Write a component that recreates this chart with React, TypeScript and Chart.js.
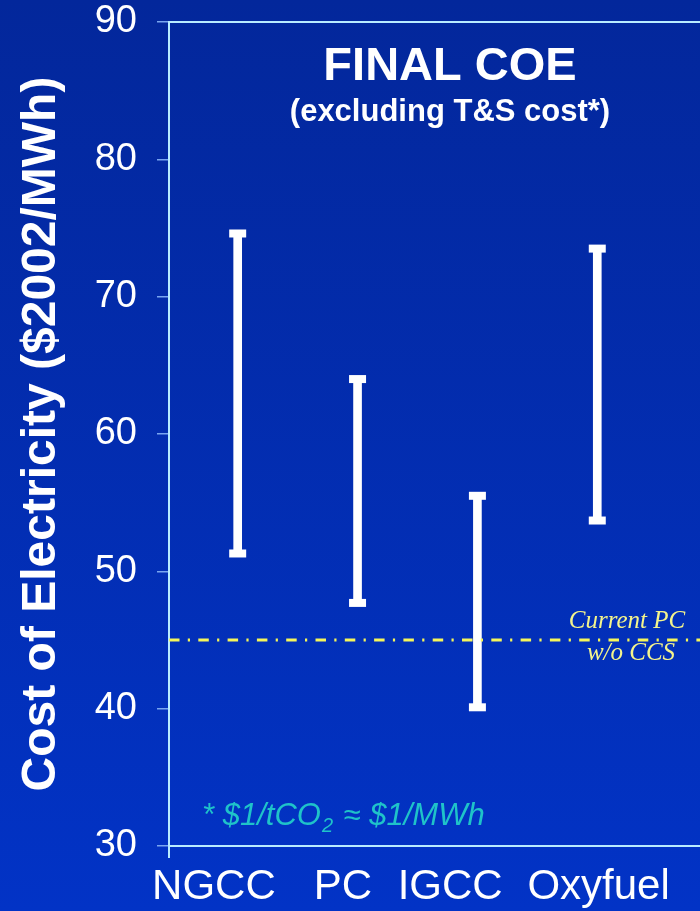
import React, { useEffect, useRef } from 'react';
import { Chart, registerables } from 'chart.js';

Chart.register(...registerables);

// ---------- data ----------
const categories = ['NGCC', 'PC', 'IGCC', 'Oxyfuel'];
const coeLow = [51.3, 47.7, 40.1, 53.7];
const coeHigh = [74.6, 64.0, 55.5, 73.5];
const currentPC = 45;
const yMin = 30;
const yMax = 90;
const yStep = 10;

const titleText = 'FINAL COE';
const subtitleText = '(excluding T&S cost*)';
const yTitle = 'Cost of Electricity ($2002/MWh)';
const refLabel = ['Current PC', 'w/o CCS'];
const footA = '* $1/tCO';
const footSub = '2';
const footB = ' \u2248 $1/MWh';

// ---------- style ----------
const SANS = '"Liberation Sans", Arial, Helvetica, sans-serif';
const SERIF = '"Liberation Serif", "Times New Roman", serif';
const AXIS = '#b8ecff';
const TICK = '#7aa6f0';
const X_MIN = -0.573;
const X_MAX = 3.857;
const LABEL_SHIFT = [-0.198, -0.122, -0.227, 0.011];

export default function App() {
  const ref = useRef<HTMLCanvasElement>(null);

  useEffect(() => {
    const canvas = ref.current;
    if (!canvas) return;

    const barData = categories.map((_, i) => ({ x: i, y: [coeLow[i], coeHigh[i]] }));
    const capData = categories.flatMap((_, i) => [
      { x: i, y: coeLow[i] },
      { x: i, y: coeHigh[i] },
    ]);
    const refData = [
      { x: X_MIN, y: currentPC },
      { x: X_MAX, y: currentPC },
    ];

    const overlay = {
      id: 'overlay',
      afterDraw(chart: any) {
        const { ctx, chartArea } = chart;
        const { left, right, top, bottom } = chartArea;
        const ys = chart.scales.y;
        ctx.save();
        // frame
        ctx.strokeStyle = AXIS;
        ctx.lineWidth = 2;
        ctx.beginPath();
        ctx.moveTo(left - 1, top);
        ctx.lineTo(right, top);
        ctx.stroke();
        ctx.beginPath();
        ctx.moveTo(left, bottom);
        ctx.lineTo(left, bottom + 12);
        ctx.stroke();

        // title
        ctx.fillStyle = '#ffffff';
        ctx.textAlign = 'center';
        ctx.textBaseline = 'alphabetic';
        ctx.font = `bold 47px ${SANS}`;
        ctx.fillText(titleText, left + 281, top + 58);
        ctx.font = `bold 31px ${SANS}`;
        ctx.fillText(subtitleText, left + 281, top + 99);

        // reference label
        const yRef = ys.getPixelForValue(currentPC);
        ctx.fillStyle = '#f4f48c';
        ctx.font = `italic 25px ${SERIF}`;
        ctx.fillText(refLabel[0], 627, yRef - 12);
        ctx.fillText(refLabel[1], 631, yRef + 20);

        // footnote
        ctx.fillStyle = '#1fc3c9';
        ctx.textAlign = 'left';
        let fx = left + 33;
        const fy = bottom - 21;
        ctx.font = `italic 31px ${SANS}`;
        ctx.fillText(footA, fx, fy);
        fx += ctx.measureText(footA).width + 1;
        ctx.font = `italic 20px ${SANS}`;
        ctx.fillText(footSub, fx, fy + 7);
        fx += ctx.measureText(footSub).width + 2;
        ctx.font = `italic 31px ${SANS}`;
        ctx.fillText(footB, fx, fy);
        ctx.restore();
      },
    };

    const chart = new Chart(canvas, {
      type: 'bar',
      data: {
        datasets: [
          {
            type: 'line',
            data: refData,
            borderColor: '#f6f65a',
            borderWidth: 2.8,
            borderDash: [10.5, 8.3, 2.2, 8.3],
            pointRadius: 0,
            fill: false,
            order: 0,
          } as any,
          {
            type: 'bar',
            data: barData,
            backgroundColor: '#ffffff',
            barThickness: 8,
            borderWidth: 0,
            order: 2,
          } as any,
          {
            type: 'scatter',
            data: capData,
            pointStyle: 'line',
            pointRadius: 8.5,
            pointHoverRadius: 8.5,
            pointBorderWidth: 8,
            pointBorderColor: '#ffffff',
            pointBackgroundColor: '#ffffff',
            showLine: false,
            order: 1,
          } as any,
        ],
      },
      options: {
        animation: false,
        responsive: false,
        devicePixelRatio: 1,
        events: [],
        layout: { autoPadding: false, padding: { top: 22, left: 0, right: 0, bottom: 0 } },
        plugins: {
          legend: { display: false },
          tooltip: { enabled: false },
          title: { display: false },
        },
        scales: {
          x: {
            type: 'linear',
            min: X_MIN,
            max: X_MAX,
            offset: false,
            grid: { display: false, drawTicks: false },
            border: { display: true, color: AXIS, width: 2 },
            afterBuildTicks: (s: any) => {
              s.ticks = categories.map((_, i) => ({ value: i + LABEL_SHIFT[i] }));
            },
            ticks: {
              autoSkip: false,
              maxRotation: 0,
              minRotation: 0,
              color: '#ffffff',
              font: { family: SANS, size: 42 },
              padding: 16,
              callback: (_v: any, i: number) => categories[i],
            },
            afterFit: (s: any) => {
              s.height = 65;
              s.paddingLeft = 0;
              s.paddingRight = 0;
            },
          } as any,
          y: {
            type: 'linear',
            min: yMin,
            max: yMax,
            ticks: {
              stepSize: yStep,
              color: '#ffffff',
              font: { family: SANS, size: 38, lineHeight: 1.1 },
              padding: 20,
            },
            grid: {
              display: true,
              drawOnChartArea: false,
              drawTicks: true,
              tickLength: 12,
              color: TICK,
              lineWidth: 1.5,
            },
            border: { display: true, color: AXIS, width: 2 },
            title: {
              display: true,
              text: yTitle,
              color: '#ffffff',
              font: { family: SANS, size: 48, weight: 'bold' },
              padding: { top: 12.5, bottom: 0 },
            },
            afterFit: (s: any) => {
              s.width = 169;
              s.paddingTop = 0;
              s.paddingBottom = 0;
            },
          } as any,
        },
      },
      plugins: [overlay],
    } as any);

    return () => chart.destroy();
  }, []);

  return (
    <div
      style={{
        position: 'fixed',
        left: 0,
        top: 0,
        width: 700,
        height: 911,
        background: 'linear-gradient(to bottom, #03279b 0%, #0233c6 100%)',
        overflow: 'hidden',
      }}
    >
      <canvas ref={ref} width={700} height={911} style={{ display: 'block', width: 700, height: 911 }} />
    </div>
  );
}
